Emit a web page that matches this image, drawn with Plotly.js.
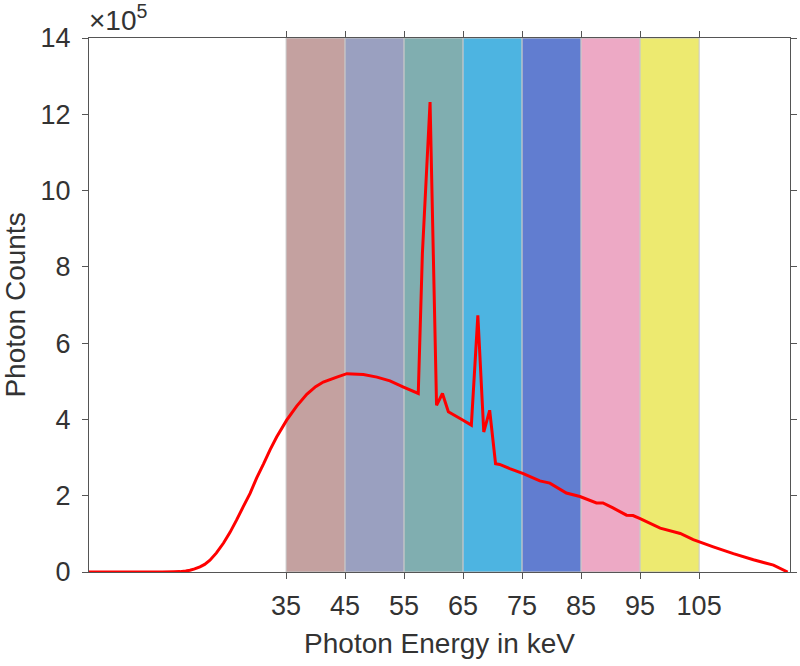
<!DOCTYPE html>
<html>
<head>
<meta charset="utf-8">
<script src="https://cdn.plot.ly/plotly-3.0.1.min.js"></script>
<style>html,body{margin:0;padding:0;background:#fff;}#chart{width:800px;height:666px;}</style>
</head>
<body>
<div id="chart"></div>
<script>
// Photon energy (keV)
const energy = [1, 5, 10, 14, 16, 17, 18, 18.7, 19.5, 20.4, 21.2, 22.1, 23.2, 24.4, 25.5, 26.6, 27.7, 28.9, 30.0, 31.2, 32.3, 33.4, 35.1, 36.8, 38.5, 40.0, 41.3, 43.6, 45.3, 48.1, 50.4, 52.6, 54.9, 57.4, 58.1, 59.4, 60.5, 61.5, 62.5, 65.0, 66.4, 67.5, 68.5, 69.5, 70.5, 71.2, 72.9, 75.2, 78.0, 79.7, 82.5, 84.8, 87.6, 88.7, 90.4, 92.7, 93.8, 95.0, 98.4, 101.8, 104.0, 107.4, 110.8, 114.2, 117.6, 120];
// Photon counts in units of 10^5
const counts = [0, 0, 0, 0, 0.005, 0.01, 0.025, 0.045, 0.08, 0.135, 0.2, 0.31, 0.5, 0.76, 1.04, 1.36, 1.70, 2.06, 2.46, 2.84, 3.21, 3.54, 3.98, 4.35, 4.66, 4.86, 4.98, 5.11, 5.20, 5.18, 5.11, 5.01, 4.85, 4.68, 8.35, 12.32, 4.37, 4.68, 4.20, 3.98, 3.85, 6.73, 3.67, 4.24, 2.84, 2.82, 2.71, 2.58, 2.39, 2.33, 2.07, 1.98, 1.81, 1.81, 1.68, 1.49, 1.48, 1.40, 1.15, 1.01, 0.85, 0.66, 0.48, 0.32, 0.18, 0];
// Energy bins
const binStarts = [35, 45, 55, 65, 75, 85, 95];
const binEnds = [45, 55, 65, 75, 85, 95, 105];
const binColors = ['#c4a1a0', '#9aa0c0', '#80aeb0', '#4db4e1', '#617dd0', '#eda9c5', '#edea70'];
const xTicks = [35, 45, 55, 65, 75, 85, 95, 105];
const yTicks = [0, 2, 4, 6, 8, 10, 12, 14];

const shapes = binStarts.map((s, i) => ({
  type: 'rect', xref: 'x', yref: 'y', layer: 'below',
  x0: s, x1: binEnds[i], y0: 0, y1: 14,
  fillcolor: binColors[i],
  line: {color: '#c8c8c8', width: 1}
}));

const fam = 'Liberation Sans, Arial, sans-serif';
const txt = '#333333';

Plotly.newPlot('chart', [{
  x: energy, y: counts, type: 'scatter', mode: 'lines',
  line: {color: '#ff0000', width: 3, simplify: false},
  hoverinfo: 'skip'
}], {
  width: 800, height: 666,
  margin: {l: 89, r: 10, t: 38, b: 94},
  paper_bgcolor: '#ffffff', plot_bgcolor: '#ffffff',
  showlegend: false,
  font: {family: fam, color: txt},
  shapes: shapes,
  xaxis: {
    range: [1.6, 120.4], tickvals: xTicks, ticktext: xTicks.map(String),
    ticks: 'outside', ticklen: 6, tickcolor: '#555', tickwidth: 1,
    showline: true, linecolor: '#555', linewidth: 1, mirror: 'ticks',
    showgrid: false, zeroline: false, ticklabelstandoff: 4,
    tickfont: {size: 27, family: fam, color: txt},
    title: {text: 'Photon Energy in keV', font: {size: 28, family: fam, color: txt}, standoff: 12}
  },
  yaxis: {
    range: [0, 14], tickvals: yTicks, ticktext: yTicks.map(String),
    ticks: 'outside', ticklen: 6, tickcolor: '#555', tickwidth: 1,
    showline: true, linecolor: '#555', linewidth: 1, mirror: 'ticks',
    showgrid: false, zeroline: false, ticklabelstandoff: 6,
    tickfont: {size: 27, family: fam, color: txt},
    title: {text: 'Photon Counts', font: {size: 28, family: fam, color: txt}, standoff: 10}
  },
  annotations: [{
    xref: 'paper', yref: 'paper', x: 0, y: 1, xanchor: 'left', yanchor: 'bottom',
    text: '×10<sup>5</sup>', showarrow: false, yshift: 0, xshift: -2,
    font: {size: 28, family: fam, color: txt}
  }]
}, {displayModeBar: false, staticPlot: true});
</script>
</body>
</html>
